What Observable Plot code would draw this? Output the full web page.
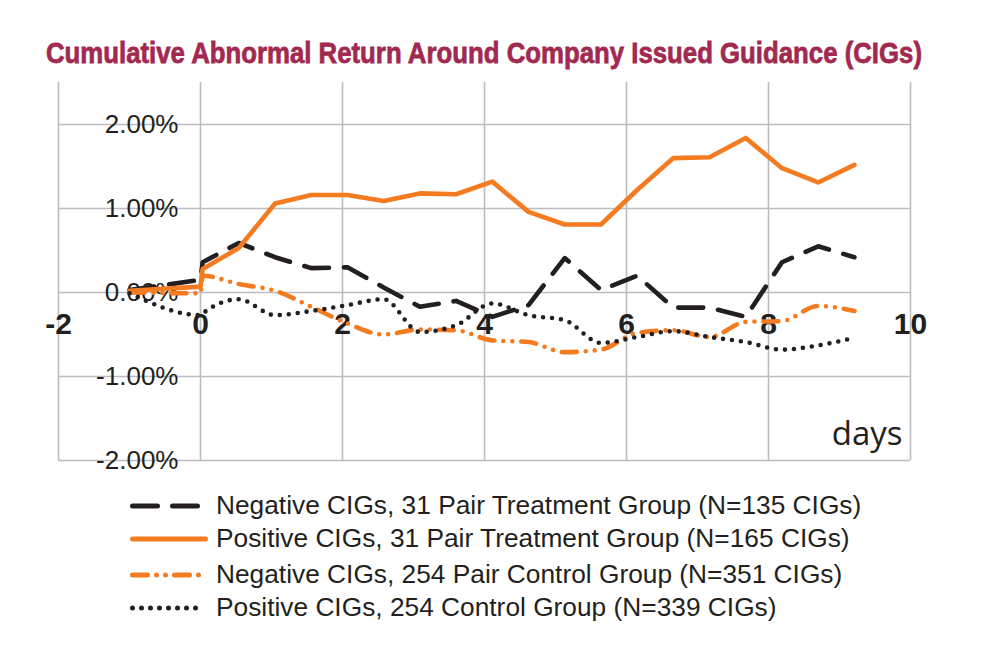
<!DOCTYPE html>
<html>
<head>
<meta charset="utf-8">
<script src="https://cdn.jsdelivr.net/npm/d3@7"></script>
<script src="https://cdn.jsdelivr.net/npm/@observablehq/plot@0.6"></script>
<style>
  body { margin: 0; background: #fff; }
  #wrap { position: relative; width: 1000px; height: 665px; overflow: hidden; background: #fff; }
  #wrap > svg { position: absolute; left: 0; top: 0; }
</style>
</head>
<body>
<div id="wrap"></div>
<script>
// ---- data ----
const titleText = "Cumulative Abnormal Return Around Company Issued Guidance (CIGs)";
const xTicks = [-2, 0, 2, 4, 6, 8, 10];
const xTickLabels = ["-2", "0", "2", "4", "6", "8", "10"];
const yTicks = [-2, -1, 0, 1, 2];
const yTickLabels = ["-2.00%", "-1.00%", "0.00%", "1.00%", "2.00%"];
const days = [-1, 0, 0.03, 0.54, 1.05, 1.56, 2.07, 2.58, 3.09, 3.6, 4.11, 4.62, 5.13, 5.64, 6.15, 6.66, 7.17, 7.68, 8.19, 8.7, 9.21];
const negTreat   = [0.03, 0.15, 0.36, 0.59, 0.42, 0.29, 0.30, 0.06, -0.17, -0.10, -0.29, -0.15, 0.41, 0.03, 0.20, -0.18, -0.18, -0.29, 0.36, 0.55, 0.42];
const posTreat   = [0.02, 0.07, 0.28, 0.53, 1.06, 1.16, 1.16, 1.09, 1.18, 1.17, 1.32, 0.96, 0.81, 0.81, 1.22, 1.60, 1.61, 1.84, 1.48, 1.31, 1.52];
const negControl = [0.00, -0.01, 0.20, 0.10, 0.02, -0.17, -0.37, -0.50, -0.44, -0.45, -0.57, -0.59, -0.71, -0.68, -0.48, -0.45, -0.53, -0.35, -0.34, -0.16, -0.22];
const posControl = [-0.01, -0.27, -0.25, -0.08, -0.27, -0.22, -0.15, -0.08, -0.47, -0.39, -0.13, -0.27, -0.33, -0.60, -0.53, -0.46, -0.53, -0.59, -0.68, -0.63, -0.54];
const seriesNames = [
  "Negative CIGs, 31 Pair Treatment Group (N=135 CIGs)",
  "Positive CIGs, 31 Pair Treatment Group (N=165 CIGs)",
  "Negative CIGs, 254 Pair Control Group (N=351 CIGs)",
  "Positive CIGs, 254 Control Group (N=339 CIGs)"
];
const seriesValues = [negTreat, posTreat, negControl, posControl];

// ---- styles ----
const BLACK = "#231f20", ORANGE = "#f47b20", GRID = "#bdbdc1";
const seriesStyles = [
  {stroke: BLACK, dash: "25,15", curve: "linear"},
  {stroke: ORANGE, dash: null, curve: "linear"},
  {stroke: ORANGE, dash: "15,9,0,9,0,9", curve: "monotone-x"},
  {stroke: BLACK, dash: "0,9", curve: "monotone-x"}
];
const SW = 4.6;

const lineMarks = seriesValues.map((vals, s) => {
  const rows = days.map((d, i) => ({day: d, v: vals[i]}));
  const st = seriesStyles[s];
  const opts = {x: "day", y: "v", stroke: st.stroke, strokeWidth: SW, strokeLinecap: "round", strokeLinejoin: "round", curve: st.curve};
  if (st.dash) opts.strokeDasharray = st.dash;
  return Plot.line(rows, opts);
});

const chart = Plot.plot({
  width: 1000,
  height: 465,
  marginTop: 82,
  marginBottom: 5,
  marginLeft: 58,
  marginRight: 90,
  x: {domain: [-2, 10], axis: null},
  y: {domain: [-2, 2.5], axis: null},
  style: {fontFamily: "'Liberation Sans', Arial, sans-serif", background: "transparent", overflow: "visible"},
  marks: [
    Plot.ruleY(yTicks, {y: d => d, x1: -2, x2: 10, stroke: GRID, strokeWidth: 1.6}),
    Plot.ruleX(xTicks, {x: d => d, y1: -2, y2: 2.5, stroke: GRID, strokeWidth: 1.6}),
    Plot.text(yTicks, {x: 0, y: d => d, text: (d, i) => yTickLabels[i], textAnchor: "end", dx: -22, fontSize: 26, fill: BLACK}),
    Plot.text(xTicks, {x: d => d, y: 0, text: (d, i) => xTickLabels[i], dy: 32, fontSize: 30, fontWeight: "bold", fill: BLACK}),
    Plot.text(["days"], {text: d => d, frameAnchor: "bottom-right", textAnchor: "end", lineAnchor: "bottom", dx: -8, dy: -16, fontSize: 33, fontFamily: "'Open Sans', sans-serif", fill: BLACK}),
    ...lineMarks
  ]
});
const wrap = document.getElementById("wrap");
wrap.appendChild(chart);

// ---- title & legend overlay ----
const ov = d3.select(wrap).append("svg").attr("width", 1000).attr("height", 665)
  .style("pointer-events", "none");
const title = ov.append("text")
  .attr("x", 46).attr("y", 63)
  .attr("transform", "translate(0,-15.75) scale(1,1.25)")
  .attr("font-family", "'Liberation Sans', Arial, sans-serif")
  .attr("font-weight", "bold").attr("font-size", 24)
  .attr("fill", "#a2294f")
  .attr("stroke", "#a2294f").attr("stroke-width", 0.6)
  .text(titleText);
const natural = title.node().getComputedTextLength();
if (Math.abs(natural - 876) > 4) {
  title.attr("textLength", 876).attr("lengthAdjust", "spacingAndGlyphs");
}

const rowY = [506, 539, 575, 608];
seriesNames.forEach((name, s) => {
  const st = seriesStyles[s];
  const y = rowY[s];
  const p = ov.append("line")
    .attr("x1", 132.5).attr("x2", s === 1 ? 205.5 : 203)
    .attr("y1", y).attr("y2", y)
    .attr("stroke", st.stroke).attr("stroke-width", SW + 0.4)
    .attr("stroke-linecap", "round");
  if (st.dash) p.attr("stroke-dasharray", st.dash);
  ov.append("text")
    .attr("x", 216).attr("y", y + 7.5)
    .attr("font-family", "'Liberation Sans', Arial, sans-serif")
    .attr("font-size", 26.3).attr("fill", BLACK)
    .text(name);
});
</script>
</body>
</html>
